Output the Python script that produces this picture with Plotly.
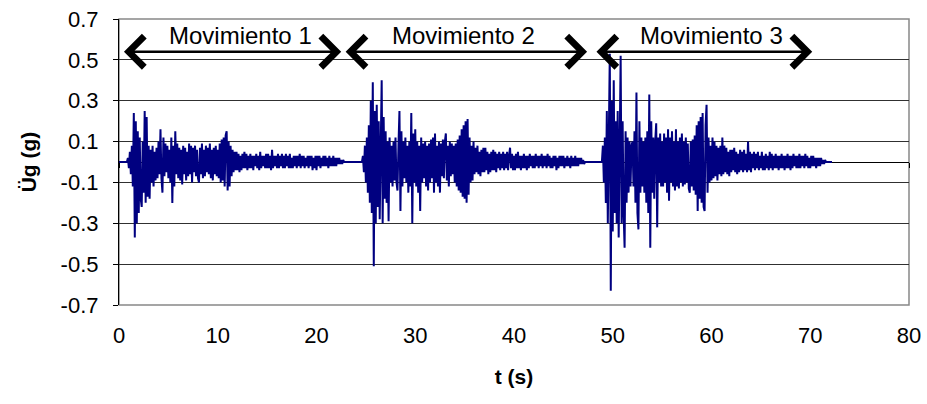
import plotly.graph_objects as go

# Ground acceleration records, sampled every 0.1 s, values in hundredths of g
dt = 0.1
mov1_start = 0.8
mov1_cg = [0,2,-3,5,-6,8,-12,
           24,-37,20,-30,15,
           -25,12,-18,-22,10,-15,25,-20,22,-17,
           8,-18,6,-10,8,-12,5,-9,7,-8,
           10,-6,16,-8,-15,12,-7,9,-5,8,
           -8,6,-10,12,-20,8,-12,15,-6,9,
           -8,7,-9,6,-11,8,-6,7,-9,5,
           -7,9,-6,8,-10,7,-5,8,-7,6,
           -8,-10,7,-6,9,-8,6,-7,8,-5,
           7,-6,9,-8,6,-9,7,-6,8,-7,
           6,-8,9,-10,11,-9,12,-12,13,15,
           -14,10,-12,8,-7,6,-5,5,-4,5,
           -4,4,-5,3,-4,4,-3,5,-3,4,
           -4,3,-3,4,-3,3,-4,3,-2,4,
           -3,3,-4,5,-3,3,-2,3,-3,4,
           -3,4,-3,3,-4,6,-3,3,-2,3,
           -3,4,-3,3,-2,4,-3,3,-3,4,
           -2,3,-3,4,-3,2,-3,3,-2,3,
           -3,3,-2,4,-3,3,-2,3,-3,2,
           -2,3,-3,3,-2,3,-4,2,-3,3,
           -4,3,-2,3,-3,2,-2,3,-2,3,
           -2,2,-3,3,-2,2,-2,3,-2,2,
           -2,2,-1,2,-1,1,-1,1,0]

mov2_start = 24.6
mov2_cg = [0,3,-5,8,-10,12,-15,18,-20,
           30,-25,39,-51,25,
           -30,28,-22,20,-28,15,40,-30,22,-18,
           15,-20,10,-29,12,-10,8,-12,10,-9,
           12,-10,-14,8,25,-24,15,-12,10,-8,
           12,-10,8,-15,10,-12,24,-30,14,-10,
           16,-12,10,-15,8,-24,12,-10,9,-8,
           10,-12,8,-14,9,-10,11,-8,12,-15,
           14,-10,8,-12,10,-15,9,-7,11,-8,
           10,14,-9,8,-12,10,-7,9,-6,8,
           -10,9,-12,11,-14,13,-15,16,-17,18,
           -18,20,-20,21,-16,12,-10,8,-9,10,
           -6,7,-5,8,-6,5,-7,6,-5,7,
           -5,7,-4,5,-6,4,-5,5,-4,6,
           -4,5,-5,4,-3,5,-4,4,-3,5,
           -4,4,-3,5,-4,3,7,-3,4,-4,
           3,-4,4,-3,5,-3,3,-4,3,-3,
           4,-3,3,-4,3,-3,4,-2,3,-3,
           3,-3,4,-2,3,-3,3,-2,4,-3,
           3,-2,3,-3,4,-2,3,-3,2,-3,
           3,-2,3,-4,2,-3,3,-2,3,-2,
           3,-3,2,-2,3,-2,2,-3,3,-2,
           2,-2,3,-2,2,-2,2,-1,2,-1,
           1,-1,0]

mov3_start = 48.9
mov3_cg = [0,8,-10,12,-20,25,
           -30,35,53,-63,30,
           -34,40,-25,20,-30,25,-37,18,52,-30,
           20,-25,-42,15,-20,12,-15,10,-12,8,
           10,-12,15,-20,34,-25,-33,20,-15,12,
           -12,10,-15,12,-20,15,-25,33,-42,20,
           -15,12,-18,10,19,-32,12,-10,14,-12,
           10,-12,14,-10,12,-15,16,-19,12,-10,
           15,-12,10,-14,16,-12,10,-13,12,-10,
           14,-12,10,-11,12,-10,9,-13,-15,10,
           -12,11,-14,13,-16,18,-24,20,-18,22,
           -20,24,-22,-24,18,28,-15,12,-10,8,
           -9,12,-8,10,-7,8,-9,7,-6,8,
           -7,12,-6,8,-5,7,-6,5,-7,6,
           -5,6,-4,7,-5,5,-6,4,-5,6,
           -4,5,-5,6,-4,4,-5,10,-4,5,
           -5,4,-3,5,-4,4,-3,5,-4,3,
           -3,5,-4,3,-4,4,-3,3,-4,5,
           -3,4,-4,3,-3,4,-3,3,-4,3,
           -3,4,-3,3,-4,3,-3,4,-3,3,
           -4,3,-3,4,-2,3,-3,3,-3,4,
           -3,3,-2,3,-3,4,-2,3,-3,2,
           -3,3,-2,3,-2,2,-3,2,-2,2,
           -2,2,-1,1,-1,1,0,0,0,0,
           0,0,0]

record_start = 0.0
y_ticks = [0.7, 0.5, 0.3, 0.1, -0.1, -0.3, -0.5, -0.7]
y_tick_text = ["0.7", "0.5", "0.3", "0.1", "-0.1", "-0.3", "-0.5", "-0.7"]
x_ticks = [0, 10, 20, 30, 40, 50, 60, 70, 80]
movements = ["Movimiento 1", "Movimiento 2", "Movimiento 3"]
mov_spans = [(0.35, 22.5), (22.8, 47.4), (48.2, 70.2)]
mov_label_x = [12.3, 34.9, 60.0]

t = [record_start]
a = [0.0]
for start, vals in [(mov1_start, mov1_cg), (mov2_start, mov2_cg), (mov3_start, mov3_cg)]:
    for i, v in enumerate(vals):
        t.append(round(start + i * dt, 3))
        a.append(v / 100.0)

fig = go.Figure()
fig.add_trace(go.Scatter(x=t, y=a, mode="lines",
                         line=dict(color="#000080", width=2),
                         showlegend=False, hoverinfo="skip"))
# invisible trace to activate the zero-crossing axis
fig.add_trace(go.Scatter(x=[0, 80], y=[0, 0], xaxis="x2", mode="lines",
                         line=dict(width=0), showlegend=False, hoverinfo="skip"))

font_main = "Liberation Sans, Arial, sans-serif"
fig.update_layout(
    width=927, height=404,
    margin=dict(l=119, r=18, t=19, b=99),
    paper_bgcolor="white", plot_bgcolor="white",
    font=dict(family=font_main, color="black"),
    xaxis=dict(range=[0, 80], tickvals=x_ticks, showgrid=False, zeroline=False,
               showline=False, ticks="", ticklabelstandoff=15, automargin=False,
               tickfont=dict(size=22),
               title=dict(text="<b>t (s)</b>", standoff=22, font=dict(size=21))),
    xaxis2=dict(range=[0, 80], overlaying="x", anchor="free", position=0.5,
                side="bottom", showline=True, linecolor="black", linewidth=1.2,
                ticks="outside", ticklen=5, tickcolor="black", tickvals=x_ticks,
                showticklabels=False, showgrid=False, zeroline=False,
                automargin=False, layer="below traces"),
    yaxis=dict(range=[-0.7, 0.7], tickvals=y_ticks, ticktext=y_tick_text,
               showgrid=True, gridcolor="#303030", gridwidth=1, zeroline=False,
               showline=True, linecolor="black", linewidth=1.2,
               ticks="outside", ticklen=5, tickcolor="black",
               ticklabelstandoff=10, automargin=False,
               tickfont=dict(size=22),
               title=dict(text="<b>Üg (g)</b>", standoff=18, font=dict(size=21)),
               layer="above traces"),
)

# plot frame
fig.add_shape(type="rect", xref="paper", yref="paper", x0=0, y0=0, x1=1, y1=1,
              line=dict(color="#888888", width=1.5), layer="below")

for name, (x0, x1), xl in zip(movements, mov_spans, mov_label_x):
    fig.add_annotation(x=x1, y=0.54, ax=x0, ay=0.54, xref="x", yref="y",
                       axref="x", ayref="y", text="", showarrow=True,
                       arrowhead=4, startarrowhead=4, arrowside="end+start",
                       arrowwidth=2.6, arrowsize=2.3, startarrowsize=2.3,
                       arrowcolor="black")
    fig.add_annotation(x=xl, y=0.62, xref="x", yref="y", text=name,
                       showarrow=False, font=dict(size=24, color="black"),
                       bgcolor="rgba(0,0,0,0)")

fig.write_html("out.html", config={"displayModeBar": False},
               post_script="document.body.style.margin='0';document.body.style.padding='0';")
